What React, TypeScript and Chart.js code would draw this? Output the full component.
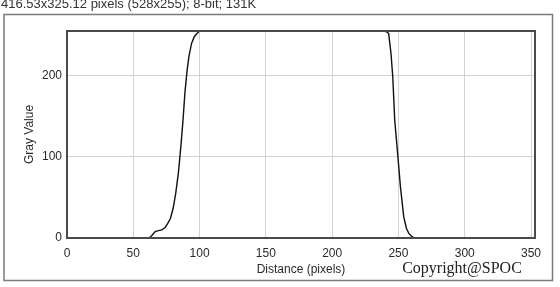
import React, { useEffect, useRef } from "react";
import { Chart, registerables } from "chart.js";

Chart.register(...registerables);

// Profile (distance in pixels, gray value 0-255)
const distance = [
  0, 62, 64, 66.5, 69, 71.5, 74, 76, 78, 80, 82, 84, 86, 87.5, 89, 90.5, 92, 94, 96, 98, 100,
  239, 241, 242.6, 244.4, 245.7, 247.2, 249.4, 251.5, 254, 256, 257.7, 260, 262, 353,
];
const grayValue = [
  0, 0, 3, 8, 9, 10, 13, 18, 24, 36, 55, 80, 115, 145, 180, 205, 224, 240, 248, 252, 255,
  255, 254, 252, 227, 199, 145, 104, 63, 26, 12, 6, 2, 0, 0,
];
const xTicks = [0, 50, 100, 150, 200, 250, 300, 350];
const yTicks = [0, 100, 200];
const xMin = 0;
const xMax = 353;
const yMin = 0;
const yMax = 255;
const headerText = "416.53x325.12 pixels (528x255); 8-bit; 131K";
const xTitle = "Distance (pixels)";
const yTitle = "Gray Value";
const watermark = "Copyright@SPOC";

const SANS = "'Liberation Sans', Arial, sans-serif";
const SERIF = "'Liberation Serif', 'Times New Roman', serif";

export default function App() {
  const ref = useRef<HTMLCanvasElement>(null);

  useEffect(() => {
    if (!ref.current) return;
    const decor = {
      id: "decor",
      beforeDraw(chart: any) {
        const ctx = chart.ctx;
        ctx.save();
        ctx.fillStyle = "#ffffff";
        ctx.fillRect(0, 0, chart.width, chart.height);
        // header text
        ctx.fillStyle = "#333333";
        ctx.font = `13px ${SANS}`;
        ctx.textBaseline = "alphabetic";
        ctx.textAlign = "left";
        ctx.fillText(headerText, 1, 8);
        // outer frame
        ctx.strokeStyle = "#7a7a7a";
        ctx.lineWidth = 1.5;
        ctx.strokeRect(4, 14.5, 548.5, 266);
        ctx.restore();
      },
      afterDraw(chart: any) {
        const ctx = chart.ctx;
        const a = chart.chartArea;
        ctx.save();
        ctx.strokeStyle = "#4a4a4a";
        ctx.lineWidth = 2;
        ctx.strokeRect(a.left, a.top, a.right - a.left, a.bottom - a.top);
        ctx.fillStyle = "#222222";
        ctx.font = `16px ${SERIF}`;
        ctx.textAlign = "center";
        ctx.textBaseline = "alphabetic";
        ctx.fillText(watermark, 462, 273);
        ctx.restore();
      },
    };

    const chart = new Chart(ref.current, {
      type: "line",
      data: {
        datasets: [
          {
            data: distance.map((d, i) => ({ x: d, y: grayValue[i] })),
            borderColor: "#111111",
            borderWidth: 1.4,
            pointRadius: 0,
            tension: 0,
            fill: false,
          },
        ],
      },
      options: {
        responsive: false,
        maintainAspectRatio: false,
        animation: false,
        devicePixelRatio: 1,
        layout: { padding: { left: 0, top: 31, right: 25, bottom: 0 } },
        plugins: { legend: { display: false }, tooltip: { enabled: false }, title: { display: false } },
        scales: {
          x: {
            type: "linear",
            min: xMin,
            max: xMax,
            afterBuildTicks: (s: any) => {
              s.ticks = xTicks.map((v) => ({ value: v }));
            },
            afterFit: (s: any) => {
              s.height = 49;
            },
            grid: { color: "#d2d2d2", lineWidth: 1, drawTicks: false },
            border: { display: false },
            ticks: {
              padding: 8,
              color: "#2a2a2a",
              font: { family: SANS, size: 12 },
              maxRotation: 0,
              autoSkip: false,
            },
            title: {
              display: true,
              text: xTitle,
              color: "#2a2a2a",
              font: { family: SANS, size: 12 },
              padding: { top: 0, bottom: 10 },
            },
          },
          y: {
            type: "linear",
            min: yMin,
            max: yMax,
            afterBuildTicks: (s: any) => {
              s.ticks = yTicks.map((v) => ({ value: v }));
            },
            afterFit: (s: any) => {
              s.width = 67;
            },
            grid: { color: "#d2d2d2", lineWidth: 1, drawTicks: false },
            border: { display: false },
            ticks: {
              padding: 5,
              color: "#2a2a2a",
              font: { family: SANS, size: 12 },
            },
            title: {
              display: true,
              text: yTitle,
              color: "#2a2a2a",
              font: { family: SANS, size: 12 },
              padding: { top: 22, bottom: 0 },
            },
          },
        },
      },
      plugins: [decor],
    } as any);

    return () => chart.destroy();
  }, []);

  return (
    <div style={{ position: "fixed", left: 0, top: 0, width: 560, height: 287, background: "#fff" }}>
      <canvas ref={ref} width={560} height={287} style={{ display: "block" }} />
    </div>
  );
}
